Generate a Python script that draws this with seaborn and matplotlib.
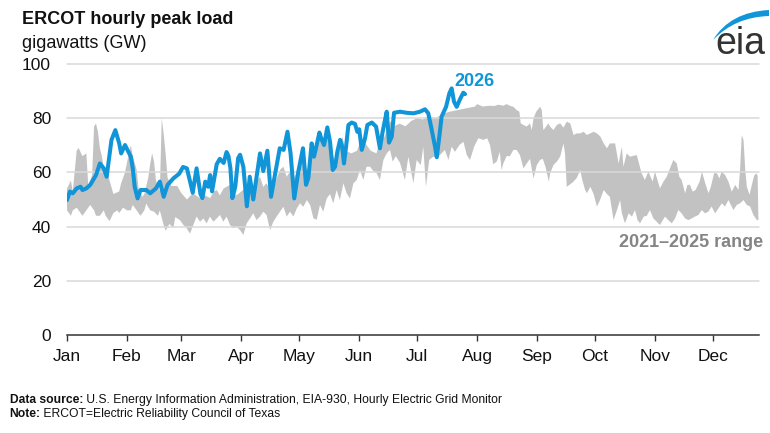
import numpy as np
import matplotlib
matplotlib.use("Agg")
import matplotlib.pyplot as plt
from matplotlib.path import Path
from matplotlib.patches import PathPatch
import seaborn as sns

# day of year (0 = Jan 1) and daily peak load in GW
range_hi_day = [0, 2, 3, 5, 6, 8, 10, 11, 13, 14, 15, 16, 17, 18, 19, 21, 22, 24, 27, 28,
                30, 32, 33, 34, 36, 37, 39, 40, 42, 43, 44, 45, 46, 48, 49, 50, 51, 52, 54, 57,
                59, 62, 65, 69, 71, 74, 76, 77.5, 79, 81, 84.3, 86, 88, 91, 93, 95.5, 98, 99.8,
                101.5, 103, 105, 106.7, 108.4, 110.1, 111.9, 113.6, 115.3, 117.1, 118.8, 120.5,
                122, 124.8, 126.5, 128, 130, 132, 134, 136, 139, 141, 142.5, 144, 147, 150, 152,
                154, 157, 160, 162, 164, 166, 167, 169, 172, 175, 178, 181, 184, 187, 190, 192,
                195, 198, 202, 206, 211, 212, 215, 218, 221, 223, 225.6, 227.3, 229, 230.8,
                232.5, 233.9, 234.6, 236, 237.7, 239.4, 240.3, 241.2, 242.6, 244.6, 245.5,
                246.3, 247.7, 248.9, 249.8, 251.5, 253.3, 255, 256.7, 258.4, 260.2, 261.9,
                263.6, 265.4, 267.1, 268.8, 270.6, 272.3, 274, 275.8, 277.5, 279.2, 280.7,
                283.4, 285.2, 286.9, 287.7, 289.4, 291.1, 294.6, 297.1, 298.8, 300.6, 302.8,
                304, 306.6, 308.4, 310.1, 311.8, 313.5, 315.3, 316.6, 317.8, 319.6, 320.8,
                322.1, 323.5, 325, 327.1, 328.3, 330, 331.7, 332.9, 334.6, 336, 337.3, 338.5,
                340.3, 342, 343.7, 345.5, 347.2, 348, 348.9, 349.8, 350.7, 351.5, 352.9, 354.1,
                355.3, 356.4, 357.1]
range_hi_gw = [54, 57, 53, 68, 69, 66, 67, 55, 59, 77, 78, 75, 69, 66, 62, 60, 57, 52, 53, 56,
               60, 67, 70, 66, 61, 54, 51, 52, 58, 63, 67, 64, 57, 53, 80, 74, 67, 58, 55, 55,
               52.5, 50, 52.3, 50.4, 51.7, 50.5, 53, 53.5, 51.5, 54.1, 55.4, 52, 51.7, 53.5,
               55.4, 53, 56.6, 58.4, 54.6, 56, 54, 53.5, 57.8, 60.9, 62.1, 58.4, 60.3, 57.8,
               59.7, 63.3, 64, 60, 66, 68, 73, 70, 75, 68, 64, 70, 73, 68, 67, 68, 72, 71, 68,
               67, 72, 73, 76, 79, 77, 78, 77, 79, 80, 79.5, 81, 80, 80.6, 81.8, 82.4, 83,
               83.6, 84.3, 85.2, 84.3, 84.6, 84.5, 85, 84.6, 85.2, 84.6, 84.2, 83, 82.4, 78.1,
               77.5, 76.9, 78.1, 75.6, 79.9, 82.4, 84.2, 83, 75.6, 76.9, 78.1, 76.9, 75.6, 77.5,
               78.1, 76.5, 78.7, 78.1, 73.8, 74.4, 74.4, 75, 73.8, 74.4, 75, 74.4, 73.2, 70.7,
               68.9, 70.7, 70.7, 63.3, 69.5, 62.1, 67, 65.8, 66.4, 59.7, 57.2, 60.3, 56.6, 60.3,
               54.1, 56.6, 58.4, 61.5, 64.6, 63.3, 58.4, 57.2, 52.3, 55.4, 55.4, 52.9, 53.5,
               56.6, 60.3, 56, 52.3, 54.7, 59.7, 59.7, 57.8, 60.3, 59, 56.6, 52.9, 55.4, 53.5,
               60.9, 73.8, 71.9, 60.9, 54.7, 51.7, 55.4, 58.8, 59.7, 58.7]
range_lo_day = [0, 2, 3, 5, 7, 8, 10, 12, 14, 15, 17, 19, 20, 22, 24, 26, 27, 29, 31, 33, 34,
                36, 38, 40, 41, 43, 45, 47, 48, 50, 51, 53, 55, 56, 58.4, 60.2, 61.9, 63.6, 65.3,
                67, 68.8, 70.5, 72.2, 73.9, 75.7, 77.4, 79.1, 80.8, 82.5, 84.3, 86, 87.7, 89.5,
                91.2, 92.9, 94.6, 96.3, 98, 99.8, 101.5, 103.2, 105, 106.7, 108.4, 110.1, 111.9,
                113.6, 115.3, 117.1, 118.8, 120.5, 122.2, 124, 125.7, 127.4, 129.1, 130.8, 132.5,
                134.3, 136, 137.7, 139.4, 141.1, 142.9, 144.6, 146.3, 148.1, 149.8, 151.5, 153.2,
                154.9, 156.7, 158.4, 160.1, 161.8, 163.6, 165.3, 167, 168.4, 170, 172.2, 174.7,
                176.5, 179.1, 180.8, 182.9, 184.2, 185.6, 187.3, 189.4, 192, 195.4, 197.2, 198.9,
                200.6, 202.9, 205, 206.7, 208.4, 210.5, 212.7, 215.3, 217.3, 218.7, 220.4, 222.2,
                223.8, 224.7, 225.6, 227.3, 229, 230.8, 232.5, 234.2, 236, 237.7, 239.4, 241.2,
                242.9, 244.6, 246, 247.4, 249.1, 249.8, 251.5, 253.3, 255, 256.7, 257.5, 258.4,
                260, 261.9, 263.6, 265.4, 266.5, 267.9, 268.8, 270.6, 272.3, 274, 275.6, 277.5,
                279.2, 280.7, 282.6, 284.3, 286, 286.9, 288.5, 290.4, 292.1, 293.7, 295, 296.3,
                298.2, 299.8, 301.4, 303.2, 304.9, 306.6, 309.2, 310.9, 312.7, 314.4, 316.1,
                317.8, 319.6, 321.3, 323, 324.7, 326.5, 328.2, 329.9, 331.6, 333.3, 335.1, 336.8,
                338.6, 340.2, 342, 344.6, 346.3, 348, 349.8, 351.5, 353.2, 354.9, 356.7, 357.5]
range_lo_gw = [46, 44, 46, 47, 45, 44, 46, 48, 46, 44, 44, 46, 44, 42, 45, 46, 45, 47, 46, 46,
               48, 46, 44, 46, 48.5, 46, 45.5, 44, 46, 40.5, 38.5, 41, 39.5, 43.5, 42.4, 40.6,
               39.4, 37.4, 40.6, 43.7, 41.8, 43, 41.2, 43.7, 41.8, 43, 44.3, 41.8, 43.7, 40.6,
               39.4, 39.9, 38.7, 36.9, 41.2, 43, 44.9, 42.4, 43.7, 45.5, 44.3, 38.7, 41.8, 43.7,
               45.5, 47.3, 43.7, 45.5, 43.7, 46.7, 48.6, 47.3, 49.8, 48, 43.1, 42.5, 48, 45.5,
               50.4, 52, 48.6, 53.5, 49.8, 56, 52.3, 50.4, 56, 57.2, 60.9, 57.2, 62.1, 62.1,
               60.5, 59.7, 57.2, 64.6, 67, 68.3, 64, 66, 63.5, 57.2, 65.8, 56, 64.6, 62.7, 69.5,
               54.7, 64.6, 65.8, 65.8, 68.3, 64.6, 69.5, 67.6, 70.1, 71.3, 66.4, 64.6, 69.5, 72.6,
               72, 72.6, 70.1, 63, 64, 67.6, 60.9, 63.3, 66, 66, 68.3, 68.3, 66.4, 61.5, 63.3,
               65, 57.8, 62.7, 64.6, 65, 62.1, 56.6, 59.6, 62.7, 64, 65.8, 70.7, 67, 54.7, 55.5,
               56.6, 58, 60.9, 57, 53.5, 52.3, 54.7, 52, 47.4, 49.8, 53.5, 52, 51, 42.4, 46,
               49.8, 44.9, 41.2, 44.9, 43.7, 46.1, 42.4, 41.2, 43.7, 44, 46.1, 43, 41.8, 40.6,
               43.7, 42.4, 41.2, 43, 46.1, 44.9, 43, 42.4, 43, 43.7, 44.3, 46.1, 44.9, 45.5, 47.4,
               44.9, 46.7, 48.6, 47.4, 49.8, 46.1, 48, 48.6, 49.8, 48, 47.4, 44.3, 42.4, 42.4]
load_2026_day = [0, 1.5, 3, 5, 7, 8, 10, 12, 14, 15, 17, 19, 20.5, 23, 25, 27, 28, 30, 33, 34,
                 35, 36.5, 38, 41, 43, 46, 48, 50, 52, 55, 58, 60, 62, 65, 67, 69, 70, 71.5, 73,
                 74, 75, 77.4, 79, 81, 82.5, 83.5, 84.5, 85.5, 87, 88.5, 89.5, 91.2, 93, 94.5,
                 96.3, 99.8, 101.5, 103.6, 105.5, 107.5, 110, 112, 114, 115.6, 117.5, 119.6, 122,
                 123.6, 124.8, 126.5, 127.7, 129.1, 130.5, 131.7, 132.9, 134.6, 136, 137.4, 138.6,
                 139.8, 141.2, 142.3, 143.2, 144.3, 145.5, 147.2, 148.9, 150.1, 151.1, 152.4,
                 154.1, 155.3, 157.6, 159.8, 161.8, 163.2, 164.4, 165.3, 166.5, 167.9, 169.1,
                 172.2, 175.6, 179.1, 182.5, 185.1, 186.8, 188.6, 190.3, 191.2, 192.5, 193.7, 196,
                 197.7, 198.9, 200.1, 201.5, 203.2, 204.9, 205.8]
load_2026_gw = [49.8, 52.9, 52.3, 54.1, 54.7, 53.5, 54.1, 55.4, 57.8, 59, 63.3, 61.5, 58.4, 72,
                75.6, 70.7, 67, 70.1, 65.8, 61.5, 54.7, 50.4, 53.5, 53.5, 52.3, 54.1, 56.6, 51,
                55.4, 57.8, 59.5, 62, 61.5, 52.5, 61.5, 52, 50.5, 56.6, 54.7, 59, 53, 63, 65,
                63.5, 67.5, 66, 61.5, 50.5, 54.7, 65.3, 66.5, 62, 47.5, 58.4, 50, 67, 60.5, 68,
                51, 59, 68.9, 68.3, 75, 67, 50.4, 60.3, 68.9, 55.4, 58, 70.7, 65.8, 70.1, 74.7,
                72, 70.1, 76.6, 71.3, 60.9, 62.1, 67.7, 72, 69.5, 63.3, 69.5, 77.5, 78.4, 77.9,
                75, 75.9, 68.3, 72.6, 77.5, 78.4, 76.9, 68.9, 75, 79.3, 82.4, 71, 73.2, 82, 82.4,
                82, 81.8, 82.4, 83.3, 81.8, 75.6, 69.5, 65.6, 73.2, 80.6, 84.2, 89.2, 91, 86.1,
                84.2, 87, 89.4, 88.9]
month_start_day = [0, 31, 59, 90, 120, 151, 181, 212, 243, 273, 304, 334]
month_label = ["Jan", "Feb", "Mar", "Apr", "May", "Jun",
               "Jul", "Aug", "Sep", "Oct", "Nov", "Dec"]
gw_ticks = [0, 20, 40, 60, 80, 100]

BLUE = "#0f95d8"
BAND = "#c2c2c2"

sns.set_theme(style="white")
plt.rcParams["font.family"] = ["Liberation Sans", "DejaVu Sans"]

W, H = 770, 433
fx = lambda x: x / W
fy = lambda y: 1 - y / H

fig = plt.figure(figsize=(W / 100, H / 100), dpi=100)
ax = fig.add_axes([fx(67), fy(335), 692 / W, 271 / H])

hi_d, hi_v = np.array(range_hi_day), np.array(range_hi_gw)
lo_d, lo_v = np.array(range_lo_day), np.array(range_lo_gw)
ax.fill(np.r_[hi_d, lo_d[::-1]], np.r_[hi_v, lo_v[::-1]],
        color=BAND, lw=0, zorder=1)
for g in gw_ticks[1:]:
    ax.axhline(g, color="#d9d9d9", lw=1.1, zorder=1.5, clip_on=False)
sns.lineplot(x=load_2026_day, y=load_2026_gw, ax=ax, color=BLUE, lw=2.9,
             sort=False, estimator=None, zorder=3,
             solid_joinstyle="round", solid_capstyle="round")

ax.set_xlim(0, 357.8)
ax.set_ylim(0, 100)
ax.set_xticks(month_start_day, month_label)
ax.set_yticks(gw_ticks)
ax.set(xlabel="", ylabel="")
for s in ("top", "right", "left"):
    ax.spines[s].set_visible(False)
ax.spines["bottom"].set_color("#333333")
ax.spines["bottom"].set_linewidth(1.1)
ax.tick_params(axis="x", bottom=True, length=4, width=1, color="#333333",
               pad=6, labelsize=12.5, labelcolor="#111111")
ax.tick_params(axis="y", left=False, length=0, pad=11.5, labelsize=12.5,
               labelcolor="#111111")

ax.text(200.5, 93.5, "2026", color=BLUE, fontsize=13, weight="bold",
        va="center")
ax.text(360, 34.3, "2021\u20132025 range", color="#858585", fontsize=13,
        weight="bold", ha="right", va="center", clip_on=False)

fig.text(fx(22), fy(20), "ERCOT hourly peak load", fontsize=13,
         weight="bold", va="center", color="#111111")
fig.text(fx(22), fy(43), "gigawatts (GW)", fontsize=13, va="center",
         color="#111111")

src = fig.text(fx(10), fy(400), "Data source:", fontsize=8.7, weight="bold",
               va="center", color="#111111")
ax.annotate(" U.S. Energy Information Administration, EIA-930, Hourly Electric Grid Monitor",
            xy=(1, 0.5), xycoords=src, va="center", fontsize=8.7,
            color="#111111", annotation_clip=False)
note = fig.text(fx(9.5), fy(414), "Note:", fontsize=8.7, weight="bold",
                va="center", color="#111111")
ax.annotate(" ERCOT=Electric Reliability Council of Texas",
            xy=(1, 0.5), xycoords=note, va="center", fontsize=8.7,
            color="#111111", annotation_clip=False)

# eia logo
fig.text(fx(715), fy(54), "eia", fontsize=27, color="#333333", va="baseline")
arc = Path([(fx(713), fy(40)), (fx(730), fy(12)), (fx(769), fy(10)),
            (fx(769), fy(16)), (fx(735), fy(17)), (fx(713), fy(40))],
           [Path.MOVETO, Path.CURVE3, Path.CURVE3,
            Path.LINETO, Path.CURVE3, Path.CURVE3])
fig.patches.append(PathPatch(arc, transform=fig.transFigure,
                             facecolor=BLUE, edgecolor="none"))

fig.savefig("out.png", dpi=100)
